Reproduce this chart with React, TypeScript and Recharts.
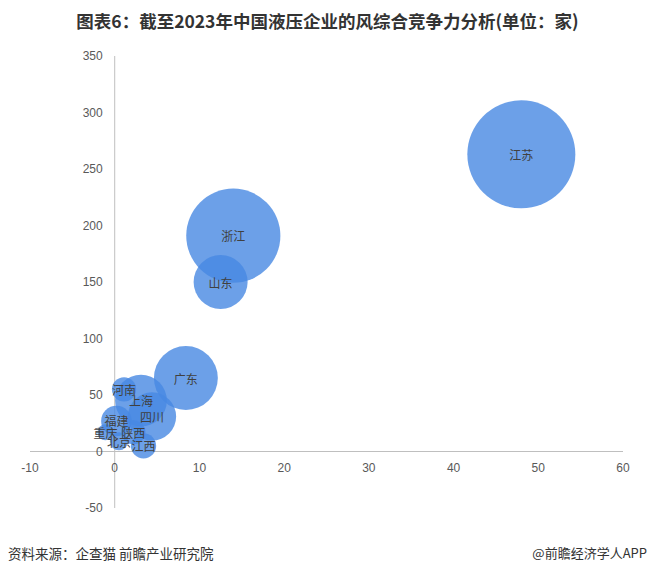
import { ScatterChart, Scatter, XAxis, YAxis, ZAxis, ReferenceLine } from "recharts";

const provinces = ["江苏", "浙江", "广东", "山东", "上海", "四川", "河南", "福建", "陕西", "江西", "北京", "重庆"];
const xValues = [48, 14, 8.4, 12.5, 3.1, 4.4, 1.1, 0.2, 2.2, 3.4, 0.5, -1.1];
const yValues = [263, 191, 65, 150, 45, 31, 55, 27, 17, 5, 9, 17];
const bubbleSizes = [100, 76, 35, 25, 23, 20, 5, 8, 5, 5.5, 2.8, 2.2];

const xTicks = [-10, 0, 10, 20, 30, 40, 50, 60];
const yTicks = [-50, 0, 50, 100, 150, 200, 250, 300, 350];

const data = provinces.map((name, i) => ({
  name,
  x: xValues[i],
  y: yValues[i],
  z: bubbleSizes[i],
}));

const W = 655;
const H = 574;
const yAxisW = 30;
const xAxisH = 30;
const margin = { top: 56, right: 32, bottom: 36, left: 0 };
const plotLeft = margin.left + yAxisW;
const plotW = W - plotLeft - margin.right;
const plotH = H - margin.top - margin.bottom - xAxisH;
const xMin = xTicks[0];
const xMax = xTicks[xTicks.length - 1];
const yMin = yTicks[0];
const yMax = yTicks[yTicks.length - 1];

// where the zero lines fall inside the plot, so tick labels can hug the axes
const zeroX = plotLeft + ((0 - xMin) / (xMax - xMin)) * plotW;
const zeroY = margin.top + ((yMax - 0) / (yMax - yMin)) * plotH;

const axisFont = "'Liberation Sans', Arial, sans-serif";
const cjkFont = "'Noto Sans CJK SC', 'Noto Sans', sans-serif";

const XTick = (props: any) => (
  <text
    x={props.x}
    y={zeroY + 20}
    textAnchor="middle"
    fontSize={12}
    fill="#595959"
    fontFamily={axisFont}
  >
    {props.payload.value}
  </text>
);

const YTick = (props: any) => (
  <text
    x={zeroX - 12}
    y={props.y}
    textAnchor="end"
    dominantBaseline="central"
    fontSize={12}
    fill="#595959"
    fontFamily={axisFont}
  >
    {props.payload.value}
  </text>
);

const Bubble = (props: any) => (
  <circle cx={props.cx} cy={props.cy} r={props.width / 2} fill="#4788e2" fillOpacity={0.8} />
);

const BubbleLabel = (props: any) => (
  <text
    x={props.cx}
    y={props.cy}
    textAnchor="middle"
    dominantBaseline="central"
    fontSize={12}
    fill="#404040"
    fontFamily={cjkFont}
  >
    {props.payload.name}
  </text>
);

export default function App() {
  return (
    <div style={{ position: "absolute", left: 0, top: 0, width: W, height: H, background: "#fff" }}>
      <div
        style={{
          position: "absolute",
          top: 8,
          left: 0,
          width: W,
          textAlign: "center",
          fontFamily: cjkFont,
          fontWeight: 700,
          fontSize: 17.5,
          color: "#333",
        }}
      >
        图表6：截至2023年中国液压企业的风综合竞争力分析(单位：家)
      </div>
      <ScatterChart width={W} height={H} margin={margin}>
        <XAxis
          type="number"
          dataKey="x"
          domain={[xMin, xMax]}
          ticks={xTicks}
          axisLine={false}
          tickLine={false}
          height={xAxisH}
          tick={<XTick />}
          interval={0}
          allowDataOverflow
        />
        <YAxis
          type="number"
          dataKey="y"
          domain={[yMin, yMax]}
          ticks={yTicks}
          axisLine={false}
          tickLine={false}
          width={yAxisW}
          tick={<YTick />}
          interval={0}
          allowDataOverflow
        />
        <ZAxis type="number" dataKey="z" domain={[0, 100]} range={[0, Math.PI * 54 * 54]} />
        <ReferenceLine y={0} stroke="#bfbfbf" strokeWidth={1} />
        <ReferenceLine x={0} stroke="#bfbfbf" strokeWidth={1} />
        <Scatter data={data} shape={<Bubble />} isAnimationActive={false} />
        <Scatter data={data} shape={<BubbleLabel />} isAnimationActive={false} />
      </ScatterChart>
      <div
        style={{
          position: "absolute",
          top: 543,
          left: 8,
          fontFamily: cjkFont,
          fontSize: 13.5,
          color: "#333",
        }}
      >
        资料来源：企查猫 前瞻产业研究院
      </div>
      <div
        style={{
          position: "absolute",
          top: 543,
          right: 8,
          fontFamily: cjkFont,
          fontSize: 13,
          color: "#333",
        }}
      >
        @前瞻经济学人APP
      </div>
    </div>
  );
}
